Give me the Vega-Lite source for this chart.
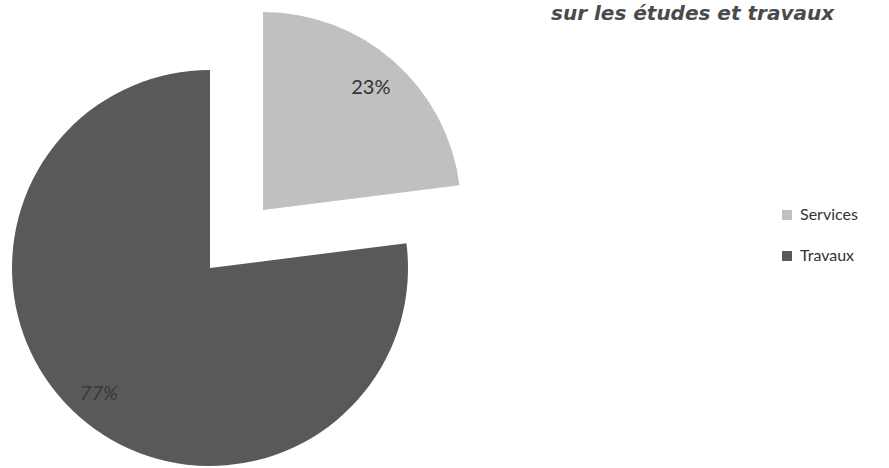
{
  "$schema": "https://vega.github.io/schema/vega-lite/v6.json",
  "width": 889,
  "height": 468,
  "autosize": {"type": "none"},
  "padding": 0,
  "background": "white",
  "title": {
    "text": "sur les études et travaux",
    "anchor": "start",
    "frame": "group",
    "offset": 0,
    "baseline": "alphabetic",
    "dx": 551,
    "dy": 40,
    "font": "DejaVu Sans",
    "fontSize": 20,
    "fontWeight": "bold",
    "fontStyle": "italic",
    "color": "#4a4a4a"
  },
  "data": {
    "values": [
      {"categorie": "Services", "part": 23, "ordre": 1, "label": "23%"},
      {"categorie": "Travaux", "part": 77, "ordre": 2, "label": "77%"}
    ]
  },
  "transform": [
    {"stack": "part", "groupby": [], "sort": [{"field": "ordre"}], "as": ["debut", "fin"]}
  ],
  "encoding": {
    "color": {
      "field": "categorie",
      "type": "nominal",
      "scale": {"domain": ["Services", "Travaux"], "range": ["#c0c0c0", "#595959"]},
      "legend": {
        "title": null,
        "orient": "none",
        "legendX": 779,
        "legendY": 207,
        "symbolType": "square",
        "symbolSize": 100,
        "symbolStrokeWidth": 0,
        "labelFont": "Lato",
        "labelFontSize": 16,
        "labelColor": "#333333",
        "labelOffset": 5,
        "rowPadding": 25
      }
    }
  },
  "layer": [
    {
      "transform": [{"filter": "datum.categorie == 'Travaux'"}],
      "mark": {"type": "arc", "x": 210, "y": 268, "outerRadius": 198},
      "encoding": {
        "theta": {"field": "debut", "type": "quantitative", "scale": {"domain": [0, 100]}},
        "theta2": {"field": "fin"}
      }
    },
    {
      "transform": [{"filter": "datum.categorie == 'Services'"}],
      "mark": {"type": "arc", "x": 263, "y": 210, "outerRadius": 198},
      "encoding": {
        "theta": {"field": "debut", "type": "quantitative", "scale": {"domain": [0, 100]}},
        "theta2": {"field": "fin"}
      }
    },
    {
      "mark": {"type": "text", "x": 263, "y": 210, "radius": 163, "font": "Lato", "fontSize": 20},
      "encoding": {
        "theta": {"field": "part", "type": "quantitative", "stack": true},
        "order": {"field": "ordre"},
        "color": {"value": "#333333"},
        "text": {"condition": {"test": "datum.categorie == 'Services'", "field": "label"}, "value": ""}
      }
    },
    {
      "mark": {"type": "text", "x": 210, "y": 268, "radius": 168, "font": "Lato", "fontSize": 20, "fontStyle": "italic"},
      "encoding": {
        "theta": {"field": "part", "type": "quantitative", "stack": true},
        "order": {"field": "ordre"},
        "color": {"value": "#3a3a3a"},
        "text": {"condition": {"test": "datum.categorie == 'Travaux'", "field": "label"}, "value": ""}
      }
    }
  ]
}
